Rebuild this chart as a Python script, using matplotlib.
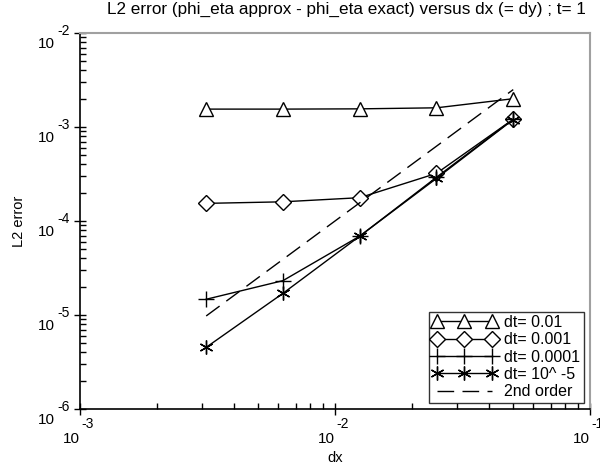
import matplotlib
matplotlib.use("Agg")
import matplotlib.pyplot as plt
from matplotlib.ticker import FixedLocator, LogLocator, NullFormatter
from matplotlib.transforms import ScaledTranslation

plt.rcParams['font.family'] = ['Liberation Sans', 'DejaVu Sans']

dx = [0.003125, 0.00625, 0.0125, 0.025, 0.05]
err_dt_1e2 = [1.55e-3, 1.55e-3, 1.56e-3, 1.60e-3, 2.0e-3]
err_dt_1e3 = [1.54e-4, 1.60e-4, 1.77e-4, 3.21e-4, 1.21e-3]
err_dt_1e4 = [1.47e-5, 2.32e-5, 6.9e-5, 2.92e-4, 1.21e-3]
err_dt_1e5 = [4.53e-6, 1.70e-5, 6.9e-5, 2.84e-4, 1.20e-3]
order2_ref = 2.5e-3  # value at dx = 0.05
order2 = [order2_ref * (d / dx[-1]) ** 2 for d in dx]

x_exp = [-3, -2, -1]
y_exp = [-6, -5, -4, -3, -2]

fig = plt.figure(figsize=(6, 4.72), dpi=100)
ax = fig.add_axes([80 / 600, 1 - 409 / 472, 510 / 600, 376 / 472])

ax.plot(dx, err_dt_1e2, color='black', lw=1, marker='^', ms=10, mfc='white', mec='black', mew=1, label='dt= 0.01')
ax.plot(dx, err_dt_1e3, color='black', lw=1, marker='D', ms=8, mfc='white', mec='black', mew=1, label='dt= 0.001')
ax.plot(dx, err_dt_1e4, color='black', lw=1, marker='+', ms=11, mec='black', mew=1, label='dt= 0.0001')
ax.plot(dx, err_dt_1e5, color='black', lw=1, marker=(6, 2, 0), ms=10, mec='black', mew=1, label='dt= 10^ -5')
ax.plot(dx, order2, color='black', lw=1, dashes=(12, 6), label='2nd order')

ax.set_xscale('log')
ax.set_yscale('log')
ax.set_xlim(1e-3, 1e-1)
ax.set_ylim(1e-6, 1e-2)

ax.xaxis.set_major_locator(FixedLocator([10.0 ** e for e in x_exp]))
ax.yaxis.set_major_locator(FixedLocator([10.0 ** e for e in y_exp]))
ax.xaxis.set_minor_locator(LogLocator(base=10, subs=range(2, 10)))
ax.yaxis.set_minor_locator(LogLocator(base=10, subs=range(2, 10)))
ax.xaxis.set_major_formatter(NullFormatter())
ax.yaxis.set_major_formatter(NullFormatter())
ax.xaxis.set_minor_formatter(NullFormatter())
ax.yaxis.set_minor_formatter(NullFormatter())

ax.tick_params(which='major', direction='inout', length=9, width=1, top=False, right=False)
ax.tick_params(which='minor', direction='in', length=4, width=1, top=False, right=False)

# tick labels as "10" plus a raised exponent
pt = fig.dpi_scale_trans
def off(px, py):
    return ScaledTranslation(px / 100, py / 100, pt)

for e in x_exp:
    tr = ax.get_xaxis_transform()
    ax.text(10.0 ** e, 0, '10', transform=tr + off(0, -23), ha='right', va='top', fontsize=11, clip_on=False)
    ax.text(10.0 ** e, 0, str(e), transform=tr + off(1, -8), ha='left', va='top', fontsize=10, clip_on=False)
for e in y_exp:
    tr = ax.get_yaxis_transform()
    ax.text(0, 10.0 ** e, '10', transform=tr + off(-25, -11), ha='right', va='center', fontsize=11, clip_on=False)
    ax.text(0, 10.0 ** e, str(e), transform=tr + off(-23, 2), ha='left', va='center', fontsize=10, clip_on=False)

for s in ('top', 'right'):
    ax.spines[s].set_color('#a0a0a0')
    ax.spines[s].set_linewidth(1.5)
for s in ('left', 'bottom'):
    ax.spines[s].set_linewidth(1.2)

ax.set_title('L2 error (phi_eta approx - phi_eta exact) versus dx (= dy) ; t= 1', fontsize=12.3, x=0.522, pad=14)
ax.set_xlabel('dx', fontsize=10.5, labelpad=22)
ax.set_ylabel('L2 error', fontsize=10.5, labelpad=31)

leg = ax.legend(loc='lower right', numpoints=3, handlelength=4.0, fontsize=11.5, frameon=True,
                fancybox=False, edgecolor='black', borderpad=0.2, labelspacing=0.15,
                handletextpad=0.5, borderaxespad=0.4)
leg.get_frame().set_linewidth(1)

fig.savefig('out.png', dpi=100)
